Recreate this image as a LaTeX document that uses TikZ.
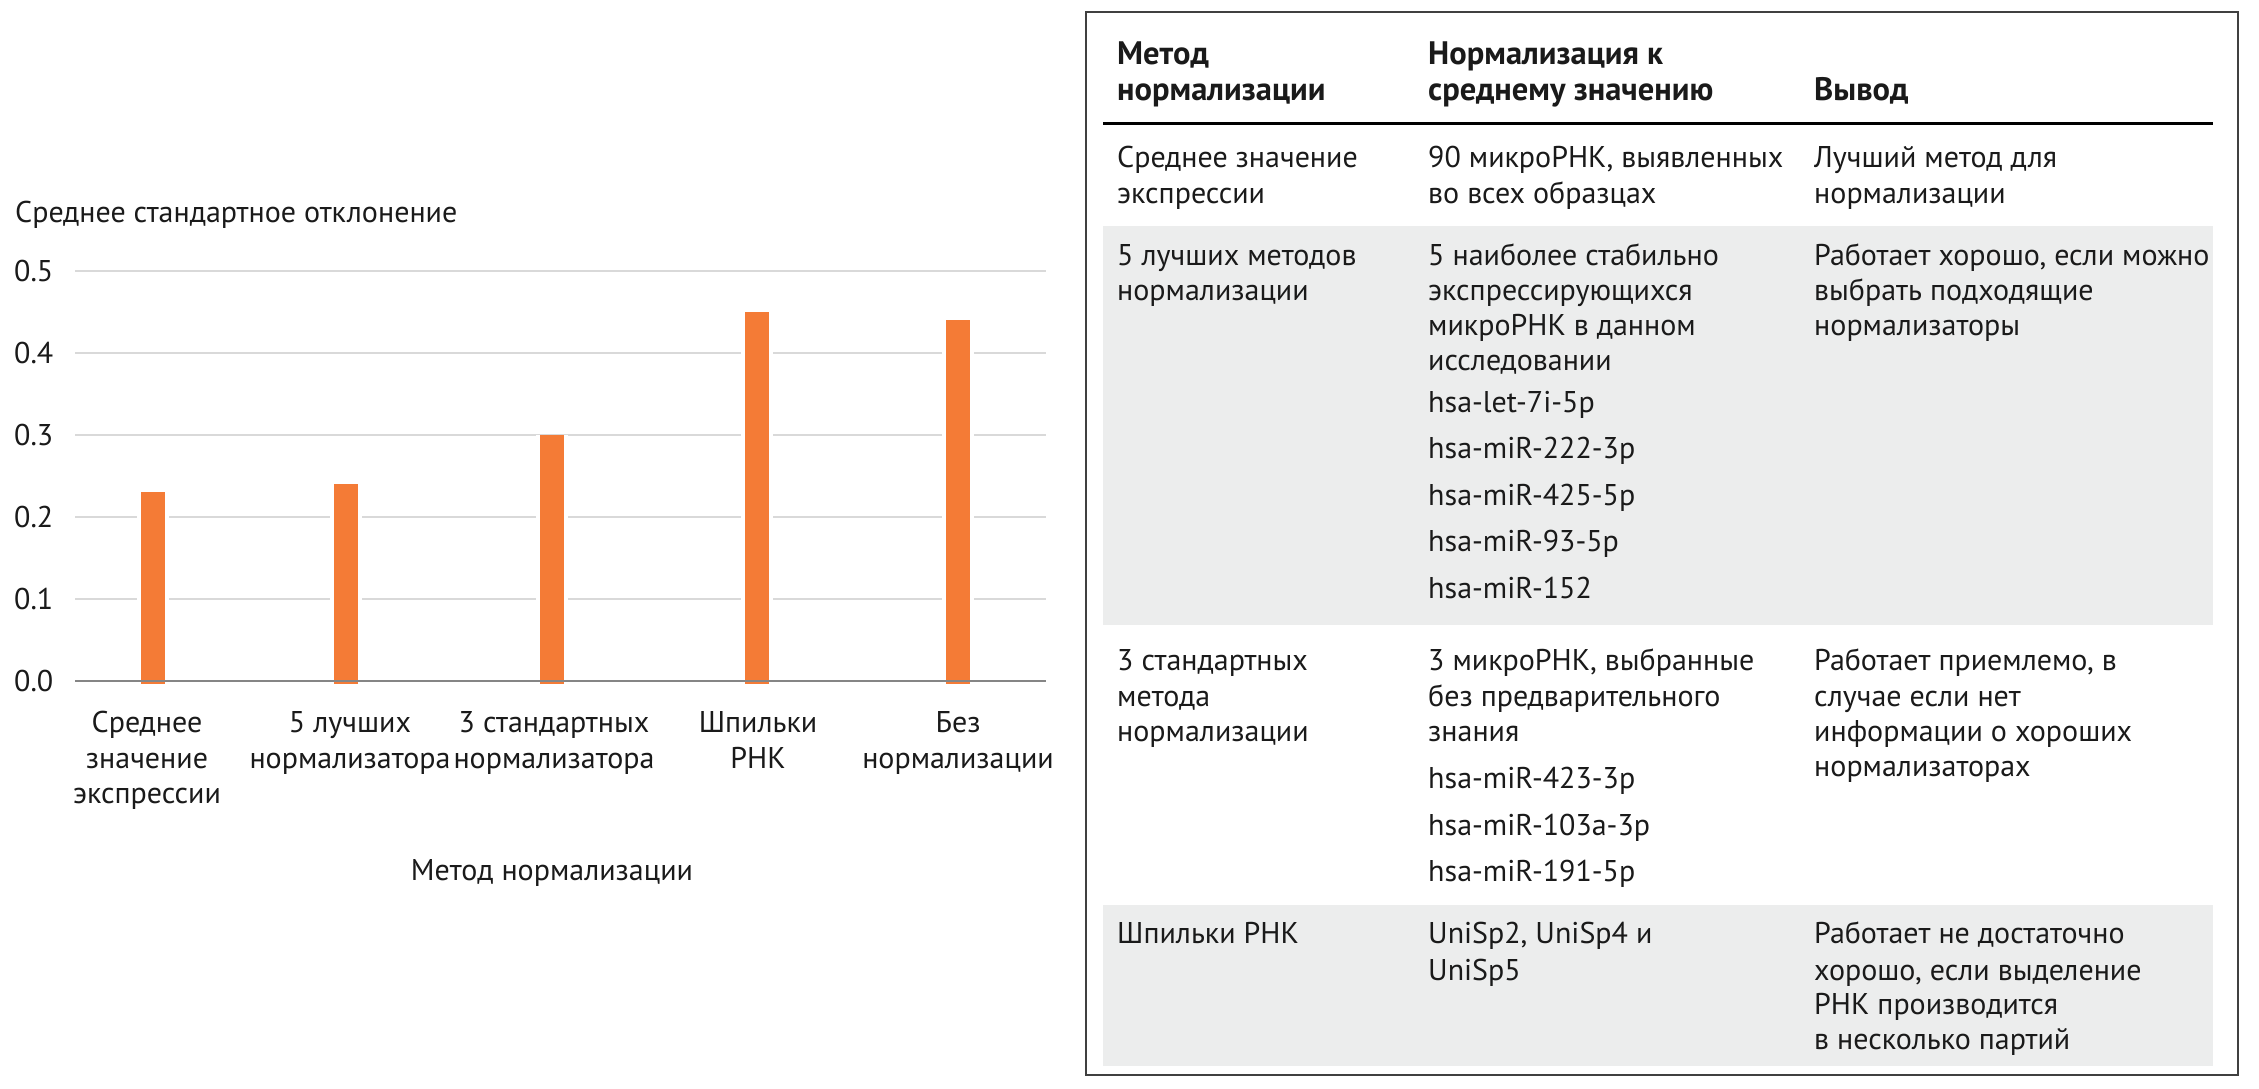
\documentclass[tikz,border=0pt]{standalone}
\usepackage{fontspec}
\setmainfont{PT Sans}
\definecolor{txt}{HTML}{1A1A1A}
\definecolor{barc}{HTML}{F47B36}
\definecolor{gridc}{HTML}{D9D9D9}
\definecolor{axisc}{HTML}{858585}
\definecolor{rowshade}{HTML}{ECEDED}
\definecolor{framec}{HTML}{404040}
\begin{document}
\begin{tikzpicture}[x=1pt,y=-1pt,
  ct/.style={font=\fontsize{30}{36}\selectfont, text=txt, inner sep=0pt},
  cl/.style={ct, anchor=base},
  tt/.style={font=\fontsize{30}{36}\selectfont, text=txt, inner sep=0pt, anchor=base west},
  th/.style={tt, font=\fontsize{32.5}{36}\selectfont\bfseries}]
\useasboundingbox[fill=white] (0,0) rectangle (2259,1088);

% ---------- chart ----------
\node[ct, anchor=base west] (ytitle) at (15,222) {Среднее стандартное отклонение};
\foreach \i in {1,...,5} {
  \draw[gridc, line width=2pt] (75,{681-82.1*\i}) -- (1046,{681-82.1*\i});
  \node[ct, anchor=west] (tick\i) at (14,{681-82.1*\i}) {0.\i};
}
\node[ct, anchor=west] (tick0) at (14,681) {0.0};
\foreach \x/\v [count=\k] in {153/0.23, 346/0.24, 552/0.30, 757/0.45, 958/0.44} {
  \fill[white] (\x-16,681) rectangle (\x+16,{681-821*\v});
  \fill[barc] (\x-12,684) rectangle (\x+12,{681-821*\v});
}
\draw[axisc, line width=2.5pt] (75,681) -- (1046,681);

\node[cl] (c1a) at (147,732) {Среднее};
\node[cl] (c1b) at (147,768) {значение};
\node[cl] (c1c) at (147,803) {экспрессии};
\node[cl] (c2a) at (350,732) {5 лучших};
\node[cl] (c2b) at (350,768) {нормализатора};
\node[cl] (c3a) at (554,732) {3 стандартных};
\node[cl] (c3b) at (554,768) {нормализатора};
\node[cl] (c4a) at (758,732) {Шпильки};
\node[cl] (c4b) at (758,768) {РНК};
\node[cl] (c5a) at (958,732) {Без};
\node[cl] (c5b) at (958,768) {нормализации};
\node[cl] (xtitle) at (552,880) {Метод нормализации};

% ---------- table ----------
\fill[rowshade] (1103,226) rectangle (2213,625);
\fill[rowshade] (1103,905) rectangle (2213,1066);
\draw[framec, line width=2pt] (1086,12) rectangle (2238,1075);
\draw[black, line width=3pt] (1103,123) -- (2213,123);

\node[th] (h1a) at (1117,64) {Метод};
\node[th] (h1b) at (1117,100) {нормализации};
\node[th] (h2a) at (1428,64) {Нормализация к};
\node[th] (h2b) at (1428,100) {среднему значению};
\node[th] (h3a) at (1814,100) {Вывод};

% row 1
\node[tt] (r1a1) at (1117,167) {Среднее значение};
\node[tt] (r1a2) at (1117,203) {экспрессии};
\node[tt] (r1b1) at (1428,167) {90 микроРНК, выявленных};
\node[tt] (r1b2) at (1428,203) {во всех образцах};
\node[tt] (r1c1) at (1814,167) {Лучший метод для};
\node[tt] (r1c2) at (1814,203) {нормализации};

% row 2
\node[tt] (r2a1) at (1117,265) {5 лучших методов};
\node[tt] (r2a2) at (1117,300) {нормализации};
\node[tt] (r2b1) at (1428,265) {5 наиболее стабильно};
\node[tt] (r2b2) at (1428,300) {экспрессирующихся};
\node[tt] (r2b3) at (1428,335) {микроРНК в данном};
\node[tt] (r2b4) at (1428,370) {исследовании};
\node[tt] (r2b5) at (1428,412) {hsa-let-7i-5p};
\node[tt] (r2b6) at (1428,458.5) {hsa-miR-222-3p};
\node[tt] (r2b7) at (1428,505) {hsa-miR-425-5p};
\node[tt] (r2b8) at (1428,551.5) {hsa-miR-93-5p};
\node[tt] (r2b9) at (1428,598) {hsa-miR-152};
\node[tt] (r2c1) at (1814,265) {Работает хорошо, если можно};
\node[tt] (r2c2) at (1814,300) {выбрать подходящие};
\node[tt] (r2c3) at (1814,335) {нормализаторы};

% row 3
\node[tt] (r3a1) at (1117,670) {3 стандартных};
\node[tt] (r3a2) at (1117,706) {метода};
\node[tt] (r3a3) at (1117,741) {нормализации};
\node[tt] (r3b1) at (1428,670) {3 микроРНК, выбранные};
\node[tt] (r3b2) at (1428,706) {без предварительного};
\node[tt] (r3b3) at (1428,741) {знания};
\node[tt] (r3b4) at (1428,788) {hsa-miR-423-3p};
\node[tt] (r3b5) at (1428,835) {hsa-miR-103a-3p};
\node[tt] (r3b6) at (1428,881) {hsa-miR-191-5p};
\node[tt] (r3c1) at (1814,670) {Работает приемлемо, в};
\node[tt] (r3c2) at (1814,706) {случае если нет};
\node[tt] (r3c3) at (1814,741) {информации о хороших};
\node[tt] (r3c4) at (1814,776) {нормализаторах};

% row 4
\node[tt] (r4a1) at (1117,943) {Шпильки РНК};
\node[tt] (r4b1) at (1428,943) {UniSp2, UniSp4 и};
\node[tt] (r4b2) at (1428,980) {UniSp5};
\node[tt] (r4c1) at (1814,943) {Работает не достаточно};
\node[tt] (r4c2) at (1814,980) {хорошо, если выделение};
\node[tt] (r4c3) at (1814,1014) {РНК производится};
\node[tt] (r4c4) at (1814,1049) {в несколько партий};
\end{tikzpicture}
\end{document}
